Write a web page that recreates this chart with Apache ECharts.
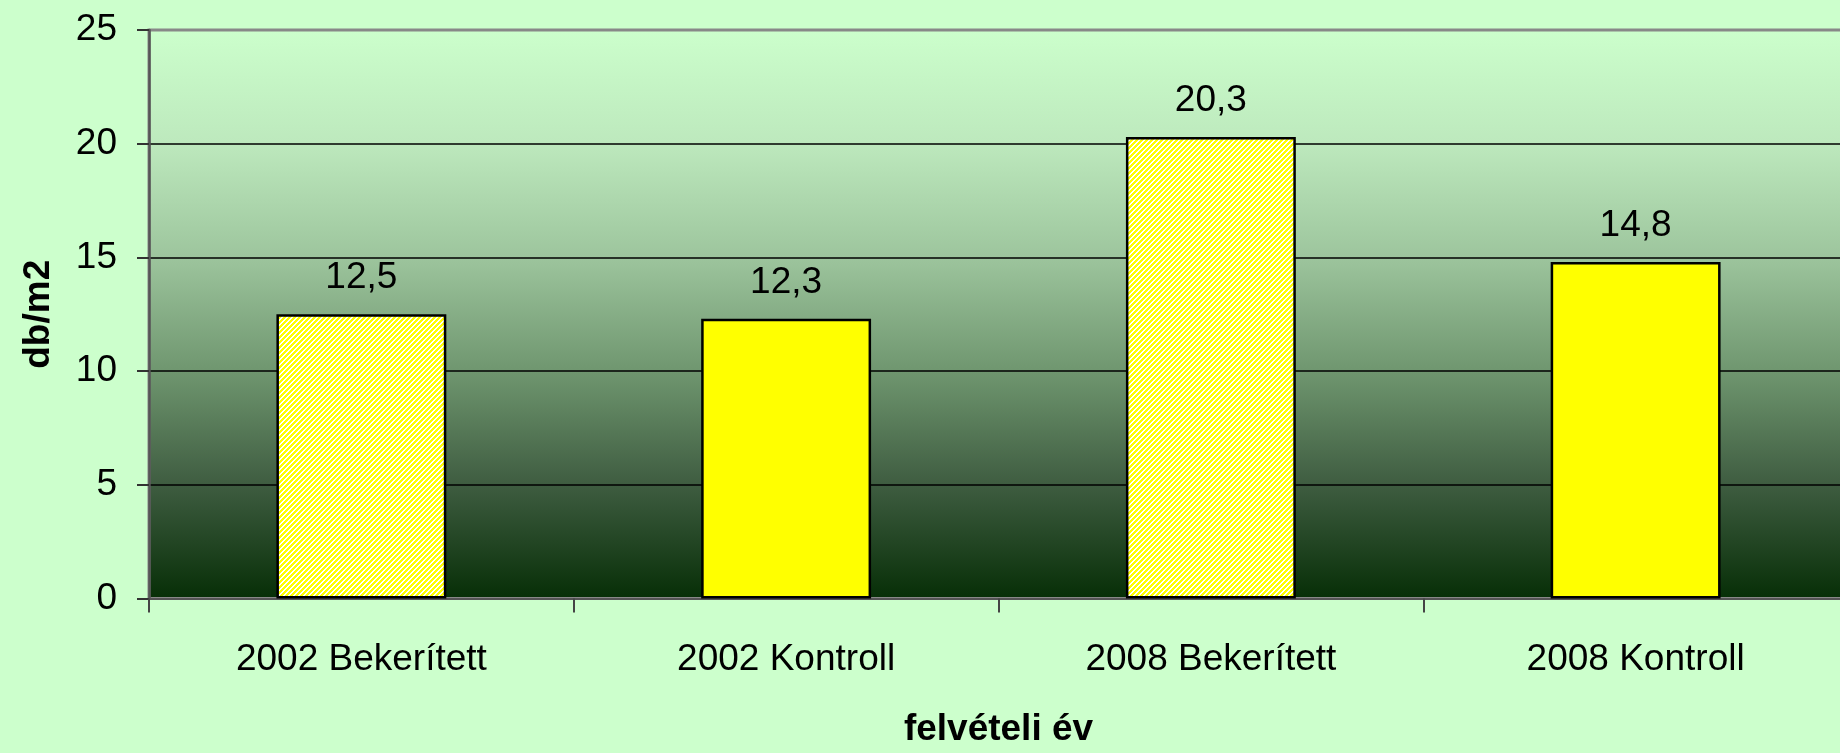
<!DOCTYPE html>
<html>
<head>
<meta charset="utf-8">
<script src="https://cdn.jsdelivr.net/npm/echarts@6/dist/echarts.min.js"></script>
<style>
html,body{margin:0;padding:0;background:#ccffcc;}
#chart{width:1840px;height:753px;}
</style>
</head>
<body>
<div id="chart"></div>
<script>
const categories = ['2002 Bekerített', '2002 Kontroll', '2008 Bekerített', '2008 Kontroll'];
const values = [12.5, 12.3, 20.3, 14.8];
const yTicks = [0, 5, 10, 15, 20, 25];
const yAxisName = 'db/m2';
const xAxisName = 'felvételi év';

// hatch pattern: white with yellow diagonal stripes
function makePattern() {
  const n = 5;
  const c = document.createElement('canvas');
  c.width = n; c.height = n;
  const ctx = c.getContext('2d');
  ctx.fillStyle = '#ffffff';
  ctx.fillRect(0, 0, n, n);
  ctx.fillStyle = '#ffff00';
  for (let x = 0; x < n; x++) {
    for (let y = 0; y < n; y++) {
      if ((x + y) % n < 3) ctx.fillRect(x, y, 1, 1);
    }
  }
  return c;
}
const hatch = { image: makePattern(), repeat: 'repeat' };

const FONT = "'Liberation Sans', Arial, sans-serif";
const chart = echarts.init(document.getElementById('chart'));
chart.setOption({
  backgroundColor: '#ccffcc',
  animation: false,
  textStyle: { fontFamily: FONT },
  grid: {
    left: 149, top: 30, width: 1699, height: 568.5,
    containLabel: false,
    outerBoundsMode: 'none',
    show: true,
    borderColor: '#888888', borderWidth: 3,
    backgroundColor: {
      type: 'linear', x: 0, y: 0, x2: 0, y2: 1,
      colorStops: [
        { offset: 0, color: '#ccffcc' },
        { offset: 0.2, color: '#bde9bd' },
        { offset: 0.4, color: '#9dc59d' },
        { offset: 0.6, color: '#6f966f' },
        { offset: 0.8, color: '#3e5c40' },
        { offset: 1, color: '#062e06' }
      ]
    }
  },
  xAxis: {
    type: 'category',
    data: categories,
    axisLine: { show: true, lineStyle: { color: '#555555', width: 2 } },
    axisTick: { show: true, alignWithLabel: false, length: 14, lineStyle: { color: '#444444', width: 2 } },
    axisLabel: { margin: 43, fontSize: 37, color: '#000', fontFamily: FONT },
    name: xAxisName,
    nameLocation: 'middle',
    nameGap: 113,
    nameTextStyle: { fontSize: 37, fontWeight: 'bold', color: '#000', fontFamily: FONT }
  },
  yAxis: {
    type: 'value',
    min: yTicks[0], max: yTicks[yTicks.length - 1], interval: yTicks[1] - yTicks[0],
    axisLine: { show: true, lineStyle: { color: '#555555', width: 2.5 } },
    axisTick: { show: true, length: 12, lineStyle: { color: '#333333', width: 2 } },
    axisLabel: { margin: 32, fontSize: 37, color: '#000', fontFamily: FONT },
    splitLine: { show: true, lineStyle: { color: ['#000', '#000', '#000', '#000', '#000', '#888888'], width: 1.5 } },
    name: yAxisName,
    nameLocation: 'middle',
    nameGap: 92,
    nameTextStyle: { fontSize: 37, fontWeight: 'bold', color: '#000', fontFamily: FONT }
  },
  series: [{
    type: 'bar',
    barCategoryGap: '60%',
    data: values.map((v, i) => ({
      value: v,
      itemStyle: {
        color: categories[i].indexOf('Bekerített') >= 0 ? hatch : '#ffff00',
        borderColor: '#000', borderWidth: 2.5
      }
    })),
    label: {
      show: true, position: 'top', distance: 18,
      fontSize: 37, color: '#000', fontFamily: FONT,
      formatter: p => String(p.value).replace('.', ',')
    }
  }]
});
</script>
</body>
</html>
